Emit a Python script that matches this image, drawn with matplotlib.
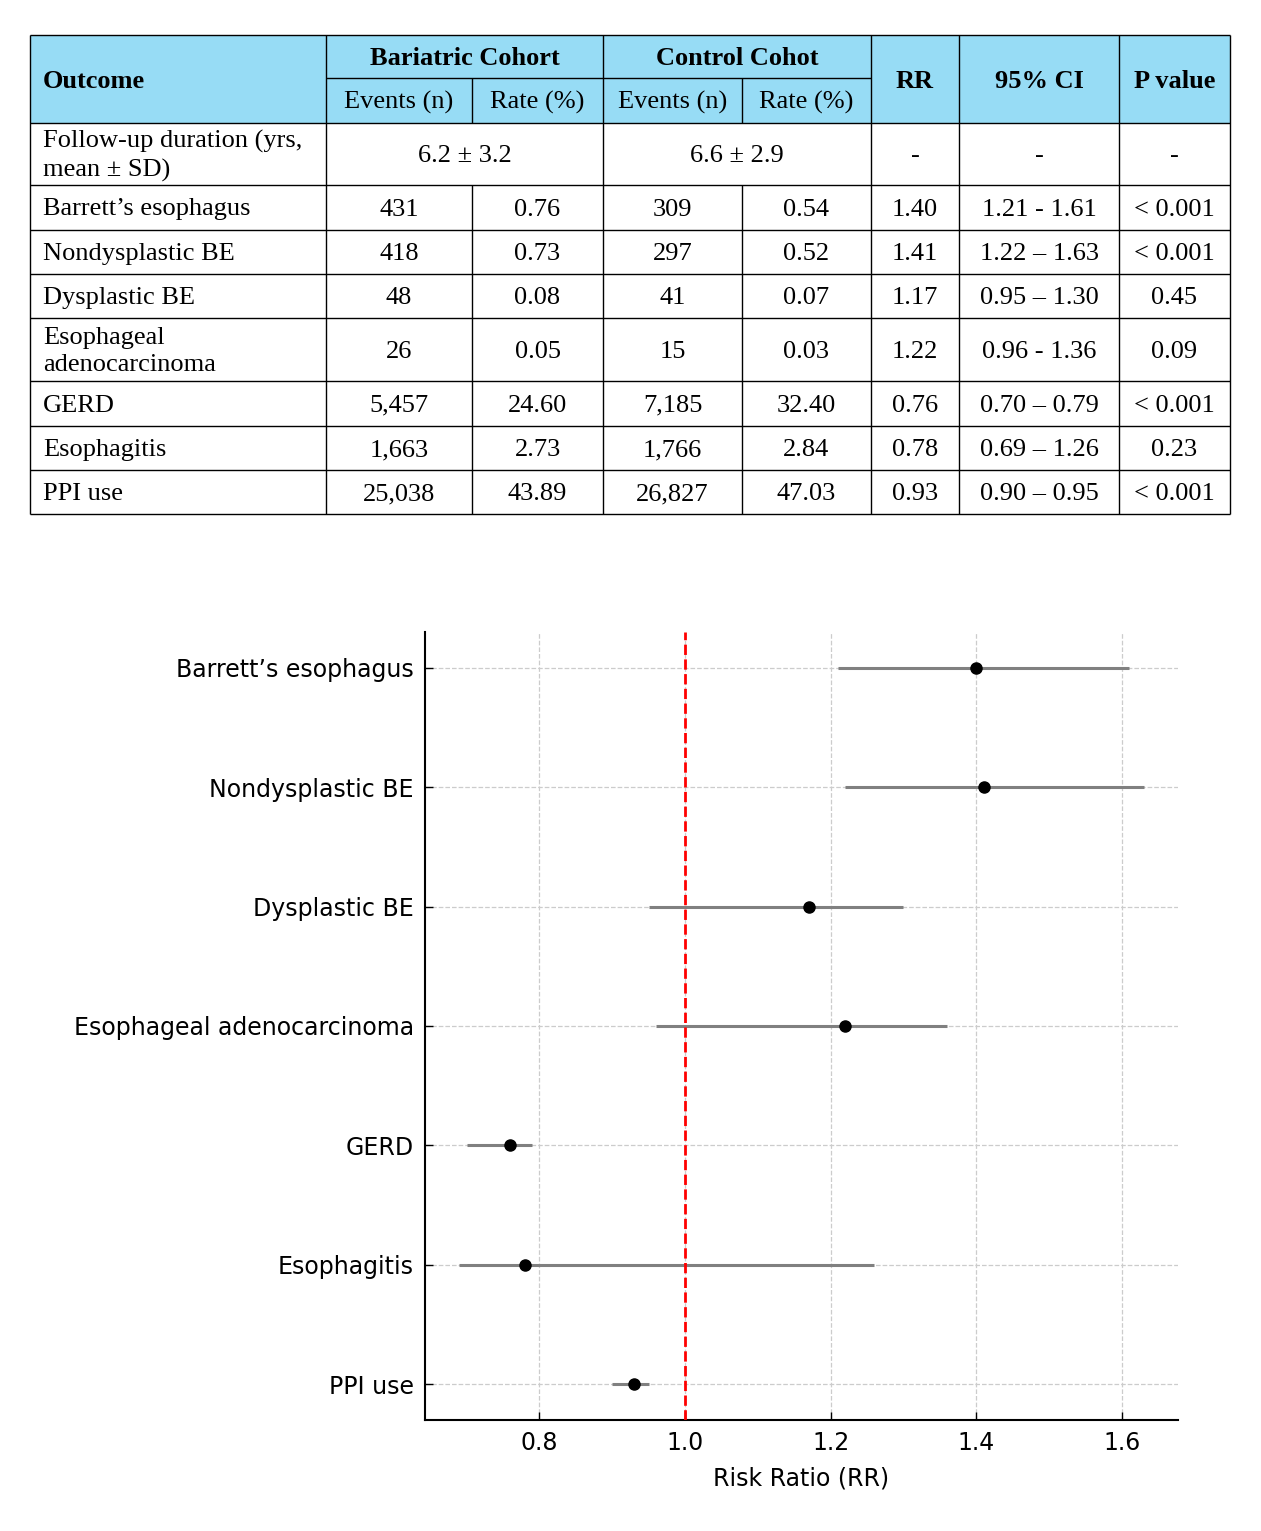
import matplotlib
matplotlib.use("Agg")
import matplotlib.pyplot as plt
from matplotlib.patches import Rectangle

# ---------------- data ----------------
outcomes = ["Barrett’s esophagus", "Nondysplastic BE", "Dysplastic BE",
            "Esophageal adenocarcinoma", "GERD", "Esophagitis", "PPI use"]
table_outcomes = ["Barrett’s esophagus", "Nondysplastic BE", "Dysplastic BE",
                  "Esophageal\nadenocarcinoma", "GERD", "Esophagitis", "PPI use"]
bar_events = ["431", "418", "48", "26", "5,457", "1,663", "25,038"]
bar_rate = ["0.76", "0.73", "0.08", "0.05", "24.60", "2.73", "43.89"]
ctl_events = ["309", "297", "41", "15", "7,185", "1,766", "26,827"]
ctl_rate = ["0.54", "0.52", "0.07", "0.03", "32.40", "2.84", "47.03"]
rr_text = ["1.40", "1.41", "1.17", "1.22", "0.76", "0.78", "0.93"]
ci_text = ["1.21 - 1.61", "1.22 – 1.63", "0.95 – 1.30", "0.96 - 1.36",
           "0.70 – 0.79", "0.69 – 1.26", "0.90 – 0.95"]
p_text = ["< 0.001", "< 0.001", "0.45", "0.09", "< 0.001", "0.23", "< 0.001"]
followup_label = "Follow-up duration (yrs,\nmean ± SD)"
followup_bar = "6.2 ± 3.2"
followup_ctl = "6.6 ± 2.9"

rr_vals = [1.40, 1.41, 1.17, 1.22, 0.76, 0.78, 0.93]
ci_low = [1.21, 1.22, 0.95, 0.96, 0.70, 0.69, 0.90]
ci_high = [1.61, 1.63, 1.30, 1.36, 0.79, 1.26, 0.95]
x_ticks = [0.8, 1.0, 1.2, 1.4, 1.6]

# ---------------- figure ----------------
W, H = 1261, 1531
fig = plt.figure(figsize=(W / 100, H / 100), dpi=100)

# table overlay axes in pixel coordinates
tax = fig.add_axes([0, 0, 1, 1])
tax.set_xlim(0, W)
tax.set_ylim(H, 0)
tax.axis("off")

cols = [30, 326, 472, 603, 742, 871, 959, 1119, 1230]
hdr_top, hdr_mid, hdr_bot = 35, 78, 123
row_edges = [123, 185, 230, 274, 318, 381, 426, 470, 514]
hdr_color = "#97dcf5"
serif = "Liberation Serif"
fs = 19
lw = 1.0

tax.add_patch(Rectangle((cols[0], hdr_top), cols[-1] - cols[0], hdr_bot - hdr_top,
                        facecolor=hdr_color, edgecolor="none"))

def hline(y, x0, x1):
    tax.plot([x0, x1], [y, y], color="black", lw=lw, solid_capstyle="butt")

def vline(x, y0, y1):
    tax.plot([x, x], [y0, y1], color="black", lw=lw, solid_capstyle="butt")

# outer + horizontal lines
hline(hdr_top, cols[0], cols[-1])
hline(hdr_mid, cols[1], cols[5])
for y in row_edges:
    hline(y, cols[0], cols[-1])
# vertical lines
for x in [cols[0], cols[1], cols[3], cols[5], cols[6], cols[7], cols[8]]:
    vline(x, hdr_top, row_edges[-1])
for x in [cols[2], cols[4]]:
    vline(x, hdr_mid, hdr_bot)
    vline(x, row_edges[1], row_edges[-1])

def ctext(x0, x1, y0, y1, s, bold=False, ha="center"):
    x = (x0 + x1) / 2 if ha == "center" else x0 + 13
    tax.text(x, (y0 + y1) / 2 + 2, s, ha=ha, va="center", family=serif,
             fontsize=fs, fontweight="bold" if bold else "normal",
             linespacing=1.32)

# header
ctext(cols[0], cols[1], hdr_top, hdr_bot, "Outcome", bold=True, ha="left")
ctext(cols[1], cols[3], hdr_top, hdr_mid, "Bariatric Cohort", bold=True)
ctext(cols[3], cols[5], hdr_top, hdr_mid, "Control Cohot", bold=True)
ctext(cols[1], cols[2], hdr_mid, hdr_bot, "Events (n)")
ctext(cols[2], cols[3], hdr_mid, hdr_bot, "Rate (%)")
ctext(cols[3], cols[4], hdr_mid, hdr_bot, "Events (n)")
ctext(cols[4], cols[5], hdr_mid, hdr_bot, "Rate (%)")
ctext(cols[5], cols[6], hdr_top, hdr_bot, "RR", bold=True)
ctext(cols[6], cols[7], hdr_top, hdr_bot, "95% CI", bold=True)
ctext(cols[7], cols[8], hdr_top, hdr_bot, "P value", bold=True)

# follow-up row
y0, y1 = row_edges[0], row_edges[1]
ctext(cols[0], cols[1], y0, y1, followup_label, ha="left")
ctext(cols[1], cols[3], y0, y1, followup_bar)
ctext(cols[3], cols[5], y0, y1, followup_ctl)
for i in (5, 6, 7):
    ctext(cols[i], cols[i + 1], y0, y1, "-")

# data rows
for r in range(len(table_outcomes)):
    y0, y1 = row_edges[r + 1], row_edges[r + 2]
    vals = [bar_events[r], bar_rate[r], ctl_events[r], ctl_rate[r],
            rr_text[r], ci_text[r], p_text[r]]
    ctext(cols[0], cols[1], y0, y1, table_outcomes[r], ha="left")
    for c, v in enumerate(vals):
        ctext(cols[c + 1], cols[c + 2], y0, y1, v)

# ---------------- forest plot ----------------
ax = fig.add_axes([425 / W, 1 - 1420 / H, (1178 - 425) / W, (1420 - 632) / H])
ypos = list(range(len(outcomes)))
xerr = [[v - lo for v, lo in zip(rr_vals, ci_low)],
        [hi - v for v, hi in zip(rr_vals, ci_high)]]
ax.errorbar(rr_vals, ypos, xerr=xerr, fmt="o", color="black", markersize=8,
            ecolor="gray", elinewidth=2.2, capsize=0, zorder=3)
ax.axvline(1.0, color="red", linestyle="--", linewidth=2, zorder=4)
ax.set_yticks(ypos)
ax.set_yticklabels(outcomes)
ax.set_xticks(x_ticks)
ax.invert_yaxis()
ax.grid(True, linestyle="--", color="#cccccc", linewidth=0.9, zorder=0)
ax.set_axisbelow(True)
for s in ("top", "right"):
    ax.spines[s].set_visible(False)
for s in ("left", "bottom"):
    ax.spines[s].set_linewidth(1.5)
ax.tick_params(direction="in", length=6, width=1, labelsize=17, pad=8)
ax.set_xlabel("Risk Ratio (RR)", fontsize=17, labelpad=8)

fig.savefig("out.png", dpi=100, facecolor="white")
